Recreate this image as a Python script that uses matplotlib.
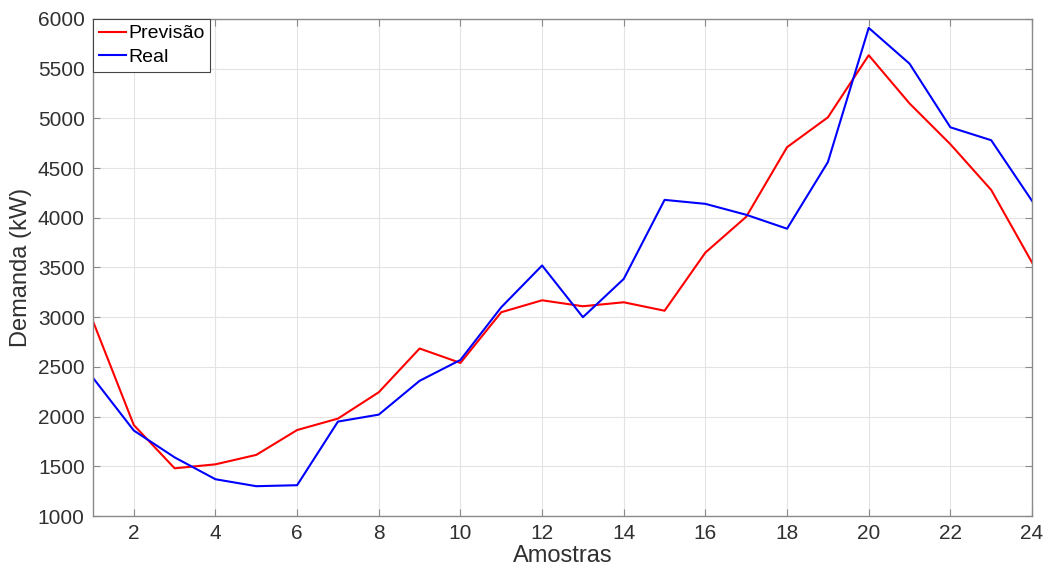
import matplotlib
matplotlib.use("Agg")
import matplotlib.pyplot as plt

amostras = list(range(1, 25))
previsao = [2960, 1915, 1480, 1520, 1615, 1865, 1980, 2245, 2685, 2540, 3050, 3170,
            3110, 3150, 3065, 3650, 4010, 4710, 5010, 5635, 5150, 4740, 4280, 3550]
real = [2390, 1860, 1590, 1370, 1300, 1310, 1950, 2020, 2360, 2570, 3100, 3520,
        3000, 3385, 4180, 4140, 4030, 3890, 4560, 5910, 5550, 4910, 4780, 4170]
xticks = [2, 4, 6, 8, 10, 12, 14, 16, 18, 20, 22, 24]
yticks = [1000, 1500, 2000, 2500, 3000, 3500, 4000, 4500, 5000, 5500, 6000]

plt.rcParams['font.family'] = ['Liberation Sans', 'DejaVu Sans']

fig = plt.figure(figsize=(10.47, 5.74), dpi=100)
ax = fig.add_axes([0.0888, 0.101, 0.8969, 0.866])
ax.plot(amostras, previsao, color='#ff0000', lw=1.5, label='Previsão')
ax.plot(amostras, real, color='#0000ff', lw=1.5, label='Real')
ax.set_xlim(1, 24)
ax.set_ylim(1000, 6000)
ax.set_xticks(xticks)
ax.set_yticks(yticks)
ax.grid(True, color='#e3e3e3', lw=0.8)
ax.set_axisbelow(True)
for s in ax.spines.values():
    s.set_color('#8a8a8a')
    s.set_linewidth(1.0)
ax.tick_params(direction='in', top=True, right=True, length=5, color='#8a8a8a',
               labelsize=15, labelcolor='#303030', pad=6)
ax.set_xlabel('Amostras', fontsize=17, color='#303030', labelpad=1)
ax.set_ylabel('Demanda (kW)', fontsize=17, color='#303030', labelpad=4)
leg = ax.legend(loc='upper left', fontsize=14, fancybox=False, framealpha=1,
                edgecolor='#444444', borderaxespad=0.0, handlelength=1.4,
                handletextpad=0.1, borderpad=0.3, labelspacing=0.3)
leg.get_frame().set_linewidth(0.8)
fig.savefig('out.png', dpi=100)
